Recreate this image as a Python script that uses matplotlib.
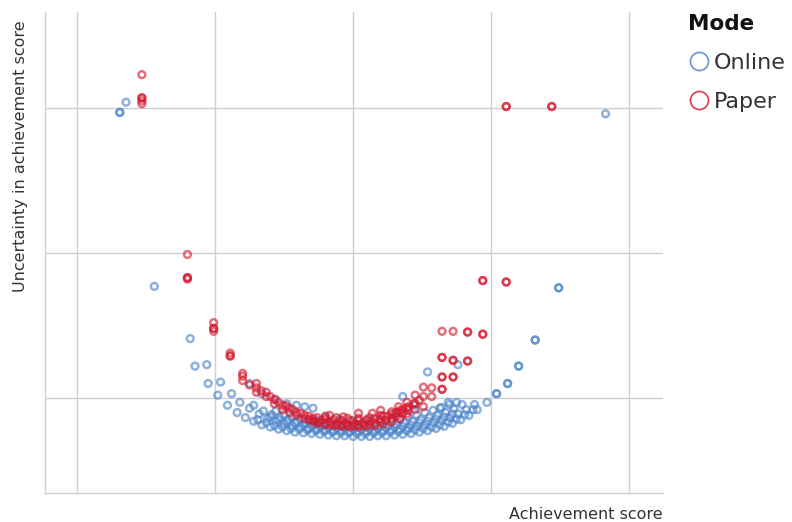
import matplotlib
matplotlib.use("Agg")
import matplotlib.pyplot as plt
from matplotlib.lines import Line2D

plt.rcParams["font.family"] = ["DejaVu Sans"]

# ---- Online mode: achievement score vs. its uncertainty -------------------
online_low_x = [-1.18, -1.145, -1.05, -0.98, -0.91, -0.84, -0.78, -0.72, -0.66, -0.60,
                -0.54, -0.48, -0.42, -0.36, -0.30, -0.24, -0.18, -0.12, -0.06, 0.00,
                0.06, 0.12, 0.18, 0.24, 0.30, 0.36, 0.42, 0.48, 0.54, 0.60,
                0.66, 0.72, 0.78, 0.84, 0.90, 0.97, 1.04, 1.12, 1.20, 1.32, 1.49]
online_low_y = [1.41, 1.22, 1.10, 1.02, 0.95, 0.90, 0.865, 0.84, 0.815, 0.80,
                0.785, 0.775, 0.765, 0.76, 0.755, 0.75, 0.745, 0.74, 0.74, 0.735,
                0.735, 0.735, 0.74, 0.74, 0.745, 0.75, 0.755, 0.765, 0.775, 0.79,
                0.805, 0.825, 0.85, 0.88, 0.92, 0.97, 1.03, 1.10, 1.22, 1.40, 1.76]

online_lowmid_x = [-0.69, -0.63, -0.57, -0.51, -0.45, -0.39, -0.33, -0.27, -0.21, -0.15,
                   -0.09, -0.03, 0.03, 0.09, 0.15, 0.21, 0.27, 0.33, 0.39, 0.45,
                   0.51, 0.57, 0.63, 0.69, 0.75, 0.81, 0.87]
online_lowmid_y = [0.85, 0.83, 0.81, 0.80, 0.79, 0.785, 0.78, 0.775, 0.77, 0.765,
                   0.76, 0.76, 0.755, 0.755, 0.76, 0.76, 0.765, 0.77, 0.775, 0.78,
                   0.79, 0.80, 0.815, 0.835, 0.855, 0.885, 0.92]

online_mid_x = [-1.06, -0.96, -0.88, -0.82, -0.75, -0.68, -0.62, -0.56, -0.50, -0.44,
                -0.38, -0.32, -0.26, -0.20, -0.14, -0.08, -0.02, 0.04, 0.10, 0.16,
                0.22, 0.28, 0.34, 0.40, 0.46, 0.52, 0.58, 0.64, 0.70, 0.76, 0.82, 0.88]
online_mid_y = [1.23, 1.11, 1.03, 0.97, 0.93, 0.89, 0.86, 0.84, 0.825, 0.81,
                0.80, 0.79, 0.785, 0.78, 0.775, 0.775, 0.77, 0.77, 0.77, 0.775,
                0.775, 0.78, 0.785, 0.795, 0.805, 0.815, 0.83, 0.845, 0.865, 0.89, 0.92, 0.955]

online_midhigh_x = [-0.60, -0.54, -0.48, -0.42, -0.36, -0.30, -0.24, -0.18, -0.12, -0.06,
                    0.00, 0.06, 0.12, 0.18, 0.24, 0.30, 0.36, 0.42, 0.48, 0.54,
                    0.60, 0.66, 0.72]
online_midhigh_y = [0.87, 0.85, 0.835, 0.825, 0.815, 0.805, 0.80, 0.795, 0.79, 0.79,
                    0.785, 0.785, 0.79, 0.79, 0.795, 0.80, 0.805, 0.815, 0.83, 0.84,
                    0.855, 0.87, 0.89]

online_high_x = [-0.72, -0.65, -0.59, -0.53, -0.47, -0.41, -0.35, -0.29, -0.23, -0.17,
                 -0.11, -0.05, 0.01, 0.07, 0.13, 0.19, 0.25, 0.31, 0.37, 0.43,
                 0.49, 0.55, 0.61, 0.67, 0.73, 0.79]
online_high_y = [0.95, 0.91, 0.885, 0.865, 0.85, 0.84, 0.83, 0.82, 0.815, 0.81,
                 0.81, 0.805, 0.805, 0.805, 0.81, 0.81, 0.815, 0.82, 0.83, 0.84,
                 0.85, 0.865, 0.88, 0.90, 0.925, 0.955]

online_upper_x = [-0.56, -0.50, -0.44, -0.38, -0.32, -0.26, 0.28, 0.34, 0.40, 0.46,
                  0.52, 0.58, 0.64, 0.70]
online_upper_y = [0.91, 0.885, 0.87, 0.86, 0.85, 0.845, 0.85, 0.86, 0.87, 0.885,
                  0.90, 0.915, 0.935, 0.955]

online_top_x = [-0.75, -0.66, -0.56, -0.48, -0.41, -0.35, -0.29, -0.20, -0.10, 0.00,
                0.10, 0.20, 0.30, 0.36, 0.45, 0.54, 0.63, 0.69, 0.75, 0.76]
online_top_y = [1.10, 1.03, 0.99, 0.96, 0.95, 0.94, 0.93, 0.87, 0.85, 0.845,
                0.845, 0.85, 0.88, 1.01, 0.95, 1.18, 0.93, 0.97, 0.97, 1.23]

online_extra_x = [-1.69, -1.69, -1.645, -1.44, 1.83, 1.04, 1.12, 1.20, 1.32, 1.49]
online_extra_y = [2.97, 2.97, 3.04, 1.77, 2.96, 1.03, 1.10, 1.22, 1.40, 1.76]

# ---- Paper mode -------------------------------------------------------------
paper_left_x = [-1.53, -1.53, -1.53, -1.53, -1.53, -1.20, -1.20, -1.20, -1.20,
                -1.01, -1.01, -1.01, -1.01, -0.89, -0.89, -0.89, -0.80, -0.80, -0.80,
                -0.70, -0.70, -0.70, -0.63, -0.63, -0.57, -0.57, -0.51, -0.51,
                -0.46, -0.46, -0.41, -0.41, -0.35, -0.35, -0.29, -0.29]
paper_left_y = [3.23, 3.07, 3.07, 3.05, 3.03, 1.99, 1.83, 1.83, 1.82,
                1.52, 1.48, 1.48, 1.46, 1.31, 1.29, 1.29, 1.17, 1.15, 1.12,
                1.10, 1.07, 1.04, 1.04, 1.01, 0.99, 0.96, 0.95, 0.92,
                0.93, 0.90, 0.90, 0.88, 0.88, 0.855, 0.86, 0.84]

paper_chain_x = [-0.75, -0.665, -0.60, -0.54, -0.485, -0.435, -0.38, -0.32]
paper_chain_y = [1.09, 1.05, 1.01, 0.97, 0.945, 0.92, 0.895, 0.875]

paper_low_x = [-0.26, -0.20, -0.14, -0.08, -0.02, 0.04, 0.10, 0.16, 0.22, 0.28, 0.34]
paper_low_y = [0.825, 0.815, 0.81, 0.805, 0.80, 0.80, 0.805, 0.81, 0.82, 0.835, 0.855]

paper_lowmid_x = [-0.32, -0.28, -0.24, -0.20, -0.16, -0.12, -0.08, -0.04, 0.00, 0.04,
                  0.08, 0.12, 0.16, 0.20, 0.24, 0.28, 0.32, 0.36, 0.40]
paper_lowmid_y = [0.85, 0.84, 0.83, 0.825, 0.82, 0.815, 0.815, 0.81, 0.81, 0.815,
                  0.815, 0.82, 0.825, 0.835, 0.845, 0.86, 0.875, 0.895, 0.915]

paper_mid_x = [-0.23, -0.17, -0.11, -0.05, 0.01, 0.07, 0.13, 0.19, 0.25, 0.31, 0.36]
paper_mid_y = [0.845, 0.835, 0.83, 0.825, 0.825, 0.83, 0.84, 0.855, 0.875, 0.90, 0.92]

paper_high_x = [-0.26, -0.20, -0.14, -0.08, -0.02, 0.04, 0.10, 0.16, 0.22, 0.28,
                0.34, 0.40, 0.44, 0.48]
paper_high_y = [0.865, 0.855, 0.85, 0.845, 0.845, 0.845, 0.85, 0.86, 0.875, 0.89,
                0.915, 0.94, 0.96, 0.985]

paper_top_x = [-0.20, -0.12, -0.04, 0.04, 0.12, 0.20, 0.28]
paper_top_y = [0.875, 0.865, 0.86, 0.86, 0.865, 0.88, 0.905]

paper_faint_x = [-0.17, -0.07, 0.04, 0.14, 0.20]
paper_faint_y = [0.88, 0.87, 0.895, 0.895, 0.915]

paper_right_x = [0.33, 0.33, 0.39, 0.39, 0.39, 0.45, 0.45, 0.45, 0.51, 0.51, 0.51,
                 0.57, 0.57, 0.645, 0.645, 0.645, 0.645, 0.645, 0.645, 0.645,
                 0.725, 0.725, 0.725, 0.725, 0.725, 0.83, 0.83, 0.83, 0.83,
                 0.94, 0.94, 0.94, 0.94, 1.11, 1.11, 1.11, 1.11, 1.44, 1.44]
paper_right_y = [0.94, 0.90, 0.97, 0.93, 0.89, 1.02, 0.965, 0.92, 1.075, 1.01, 0.94,
                 1.07, 1.01, 1.46, 1.28, 1.28, 1.145, 1.145, 1.06, 1.06,
                 1.46, 1.26, 1.26, 1.145, 1.145, 1.455, 1.455, 1.255, 1.255,
                 1.81, 1.81, 1.44, 1.44, 1.80, 1.80, 3.01, 3.01, 3.01, 3.01]

grid_x = [-2, -1, 0, 1, 2]
grid_y = [1, 2, 3]

ONLINE = "#4A84C8"
PAPER = "#D6182E"
GRID = "#CFCFCF"
TEXT = "#333333"

online_x = (online_low_x + online_lowmid_x + online_mid_x + online_midhigh_x
            + online_high_x + online_upper_x + online_top_x + online_extra_x)
online_y = (online_low_y + online_lowmid_y + online_mid_y + online_midhigh_y
            + online_high_y + online_upper_y + online_top_y + online_extra_y)
paper_x = (paper_left_x + paper_chain_x + paper_low_x + paper_lowmid_x + paper_mid_x
           + paper_high_x + paper_top_x + paper_faint_x + paper_right_x)
paper_y = (paper_left_y + paper_chain_y + paper_low_y + paper_lowmid_y + paper_mid_y
           + paper_high_y + paper_top_y + paper_faint_y + paper_right_y)

fig = plt.figure(figsize=(7.92, 5.22), dpi=100)
ax = fig.add_axes([45 / 792, 1 - 493 / 522, 618 / 792, 481 / 522])

ax.scatter(online_x, online_y, s=24, facecolors="none", edgecolors=ONLINE,
           linewidths=1.8, alpha=0.62, zorder=3)
ax.scatter(paper_x, paper_y, s=24, facecolors="none", edgecolors=PAPER,
           linewidths=1.8, alpha=0.62, zorder=4)

ax.set_xlim(-2.232, 2.246)
ax.set_ylim(0.345, 3.662)
ax.set_xticks(grid_x)
ax.set_yticks(grid_y)
ax.grid(True, color=GRID, linewidth=1.0)
ax.set_axisbelow(True)
ax.tick_params(length=0, labelbottom=False, labelleft=False)
for side in ("top", "right"):
    ax.spines[side].set_visible(False)
for side in ("left", "bottom"):
    ax.spines[side].set_color(GRID)
    ax.spines[side].set_linewidth(1.0)

ax.set_xlabel("Achievement score", loc="right", fontsize=11.5, color=TEXT, labelpad=10)
ax.set_ylabel("Uncertainty in achievement score", loc="top", fontsize=11.5, color=TEXT)
ax.yaxis.set_label_coords(-0.028, 0.983)

handles = [
    Line2D([], [], linestyle="none", marker="o", markersize=13, markerfacecolor="none",
           markeredgecolor=ONLINE, markeredgewidth=1.2, alpha=0.85),
    Line2D([], [], linestyle="none", marker="o", markersize=13, markerfacecolor="none",
           markeredgecolor=PAPER, markeredgewidth=1.2, alpha=0.85),
]
leg = fig.legend(handles, ["Online", "Paper"], title="Mode", loc="upper left",
                 bbox_to_anchor=(0.858, 0.99), frameon=False, fontsize=16,
                 title_fontproperties={"weight": "bold", "size": 15.5},
                 alignment="left", handletextpad=0.2, labelspacing=0.85,
                 handlelength=0.95, borderaxespad=0.0)
for t in leg.get_texts():
    t.set_color(TEXT)
leg.get_title().set_color("#111111")

fig.savefig("out.png", dpi=100)
